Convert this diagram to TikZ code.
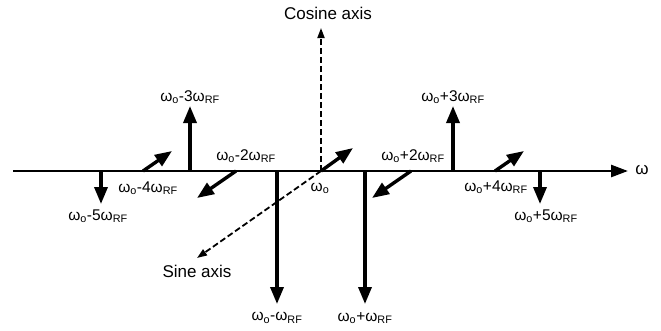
\documentclass[tikz,border=0pt]{standalone}
\usepackage{fontspec}
\setmainfont{Liberation Sans}
\usetikzlibrary{arrows.meta}
\newcommand{\wo}{ω\textsubscript{o}}
\newcommand{\wrf}{ω\textsubscript{RF}}
\begin{document}
\begin{tikzpicture}[x=1pt,y=-1pt,
  axisline/.style={line width=2.6pt,-{Triangle[length=17pt,width=12pt]}},
  spike/.style={line width=3.4pt,-{Triangle[length=17pt,width=13pt]}},
  refaxis/.style={line width=1.8pt,dash pattern=on 6pt off 3pt,-{Triangle[length=10pt,width=7pt]}},
  lbl/.style={inner sep=0pt,font=\fontsize{15.5}{17}\selectfont},
  axlbl/.style={inner sep=0pt,font=\fontsize{17}{19}\selectfont}]
\useasboundingbox (0,0) rectangle (661,330);
% frequency axis and the two reference axes through the carrier
\coordinate (o) at (321,171);
\coordinate (wstart) at (13,171);
\coordinate (wend) at (628,171);
\coordinate (cosend) at (321,28);
\coordinate (sinend) at (197,258);
\draw[axisline] (wstart) -- (wend);
\node[axlbl] (wlab) at (642,170) {ω};
\draw[refaxis] (o) -- (cosend);
\draw[refaxis] (o) -- (sinend);
\node[axlbl] (coslab) at (328,13) {Cosine axis};
\node[axlbl] (sinlab) at (197,271) {Sine axis};
% spectral components
\coordinate (bm5) at (101,171); \coordinate (tm5) at (101,204);
\coordinate (bm4) at (143,171); \coordinate (tm4) at (172,151);
\coordinate (bm3) at (190,171); \coordinate (tm3) at (190,106);
\coordinate (bm2) at (236,171); \coordinate (tm2) at (197,198);
\coordinate (bm1) at (277,171); \coordinate (tm1) at (277,304);
\coordinate (t0)  at (353,148);
\coordinate (bp1) at (365,171); \coordinate (tp1) at (365,304);
\coordinate (bp2) at (411,171); \coordinate (tp2) at (372,198);
\coordinate (bp3) at (453,171); \coordinate (tp3) at (453,106);
\coordinate (bp4) at (495,171); \coordinate (tp4) at (524,151);
\coordinate (bp5) at (540,171); \coordinate (tp5) at (540,204);
\foreach \a/\b in {bm5/tm5,bm4/tm4,bm3/tm3,bm2/tm2,bm1/tm1,o/t0,bp1/tp1,bp2/tp2,bp3/tp3,bp4/tp4,bp5/tp5}
  \draw[spike] (\a) -- (\b);
% component labels
\node[lbl] (lm5) at (98,216)  {\wo-5\wrf};
\node[lbl] (lm4) at (148,188) {\wo-4\wrf};
\node[lbl] (lm3) at (190,97)  {\wo-3\wrf};
\node[lbl] (lm2) at (246,156) {\wo-2\wrf};
\node[lbl] (lm1) at (277,318) {\wo-\wrf};
\node[lbl] (l0)  at (320,188) {\wo};
\node[lbl] (lp1) at (365,318) {\wo+\wrf};
\node[lbl] (lp2) at (413,156) {\wo+2\wrf};
\node[lbl] (lp3) at (453,97)  {\wo+3\wrf};
\node[lbl] (lp4) at (496,187) {\wo+4\wrf};
\node[lbl] (lp5) at (546,216) {\wo+5\wrf};
\end{tikzpicture}
\end{document}
